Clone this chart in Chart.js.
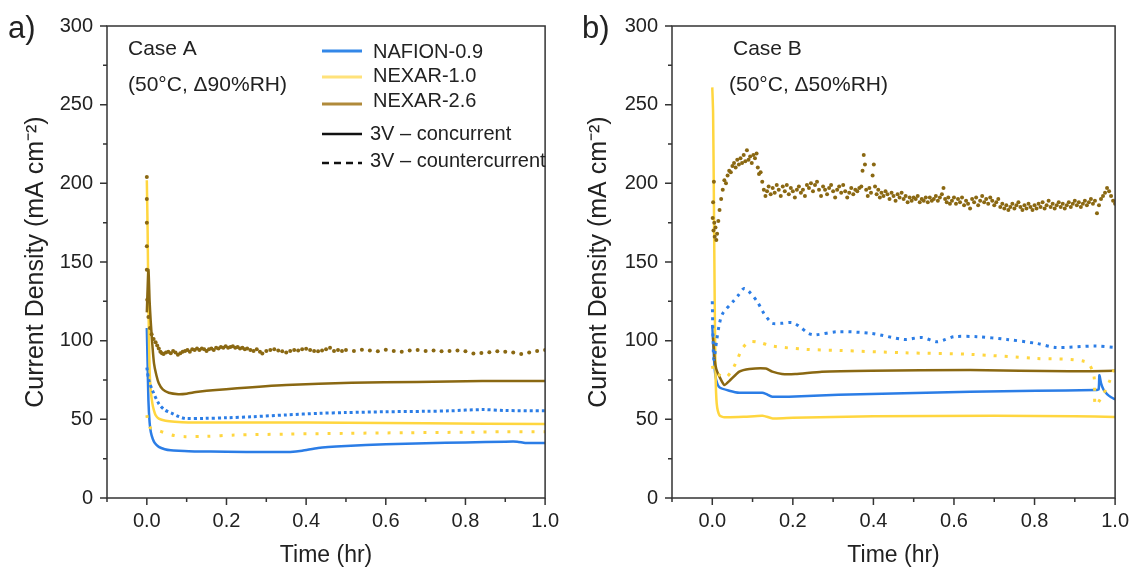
<!DOCTYPE html>
<html>
<head>
<meta charset="utf-8">
<script src="https://cdn.jsdelivr.net/npm/chart.js@4.4.1/dist/chart.umd.min.js"></script>
<style>
  html, body { margin: 0; padding: 0; background: #fff; }
  #wrap { position: relative; width: 1140px; height: 569px; }
  canvas { position: absolute; top: 0; }
</style>
</head>
<body>
<div id="wrap">
  <canvas id="chartA" width="570" height="569" style="left:0"></canvas>
  <canvas id="chartB" width="570" height="569" style="left:570px"></canvas>
</div>
<script>
// Current density vs time, two operating cases, [time (hr), mA cm-2]

// ---- Case A (50°C, Δ90%RH) ----
const aNafionCon = [[0,108],[0.002,85],[0.004,62],[0.007,48],[0.01,42],[0.015,37.5],[0.02,35],[0.03,32.5],[0.045,31],[0.06,30.3],[0.08,30],[0.12,29.6],[0.2,29.4],[0.3,29.2],[0.36,29.3],[0.39,30],[0.43,31.8],[0.5,33],[0.6,34.2],[0.7,34.8],[0.8,35.3],[0.9,35.8],[0.93,35.8],[0.95,35],[1.0,34.9]];
const aNafionCounter = [[0,83],[0.005,75],[0.014,68.5],[0.03,60],[0.045,56],[0.063,53.8],[0.08,51.8],[0.096,50.6],[0.145,50.6],[0.2,51],[0.268,51.7],[0.35,52.8],[0.432,53.8],[0.5,54.3],[0.596,54.8],[0.7,55.1],[0.76,55.4],[0.842,56.2],[0.9,55.6],[1.0,55.4]];
const aNexar10Con = [[0,202],[0.002,170],[0.004,124],[0.007,81],[0.01,68],[0.014,60],[0.018,55.5],[0.022,52.7],[0.03,50.5],[0.047,49.1],[0.07,48.4],[0.104,48],[0.3,48],[0.5,47.9],[0.7,47.5],[1.0,47]];
const aNexar10Counter = [[0,52.7],[0.006,45.3],[0.026,43.2],[0.05,41],[0.071,39.6],[0.096,39],[0.15,39.2],[0.22,40],[0.35,40.6],[0.5,41.1],[0.65,41.5],[0.8,41.8],[0.9,42.1],[1.0,42.1]];
const aNexar26Con = [[0,118],[0.004,145],[0.007,125],[0.0096,113],[0.014,97],[0.018,85.6],[0.024,78],[0.03,72.9],[0.04,69],[0.055,66.9],[0.079,66],[0.1,66.3],[0.129,67.5],[0.227,69.7],[0.35,71.8],[0.514,73.3],[0.678,73.7],[0.842,74.3],[1.0,74.3]];
const aNexar26Counter = [[0,204],[0,190],[0,175],[0,160],[0,145],[0.001,126],[0.004,115],[0.008,108],[0.012,104],[0.017,101],[0.022,99],[0.026,97],[0.03,95],[0.034,93],[0.038,92],[0.042,91.5],[0.048,92.5],[0.054,93],[0.06,92],[0.066,93.5],[0.072,92.5],[0.078,91],[0.084,92],[0.09,93],[0.096,93.5],[0.102,94],[0.108,93],[0.114,94.5],[0.12,94],[0.126,95],[0.132,94],[0.138,95],[0.144,94.5],[0.15,93.5],[0.156,94.5],[0.162,95],[0.168,94],[0.174,95.5],[0.18,95],[0.186,96],[0.192,95.5],[0.198,96.5],[0.204,95.5],[0.21,96],[0.216,96.5],[0.222,95.5],[0.228,96],[0.234,95],[0.24,95.5],[0.246,94.5],[0.252,95],[0.26,94],[0.268,93.5],[0.276,94.5],[0.284,93],[0.29,91.8],[0.3,93.5],[0.31,94],[0.32,94.5],[0.33,93.8],[0.34,93.2],[0.35,92.5],[0.36,93.5],[0.37,94],[0.38,93.8],[0.39,94.5],[0.4,94.8],[0.41,94],[0.42,93.5],[0.43,93.2],[0.44,93.8],[0.45,94.5],[0.46,95.5],[0.47,93.5],[0.48,94],[0.49,93.5],[0.5,94],[0.52,93.5],[0.54,94.2],[0.56,93.8],[0.58,93.2],[0.6,94.2],[0.62,93.5],[0.64,93],[0.66,93.8],[0.68,94],[0.7,93.5],[0.72,93.8],[0.74,93.2],[0.76,93.5],[0.78,93.8],[0.8,93.2],[0.82,91.8],[0.84,92.2],[0.86,92.6],[0.88,93.2],[0.9,93],[0.92,92.5],[0.94,91.5],[0.96,92.4],[0.98,93.5],[1.0,94]];

// ---- Case B (50°C, Δ50%RH) ----
const bNafionCon = [[0,110],[0.003,95],[0.0056,83.4],[0.0098,75],[0.018,70.3],[0.042,68.2],[0.067,66.9],[0.124,66.9],[0.133,66.2],[0.149,64.4],[0.19,64.4],[0.313,65.6],[0.476,66.5],[0.64,67.5],[0.804,68.2],[0.951,68.6],[0.959,69],[0.961,78],[0.965,73],[0.971,69],[0.98,66],[0.99,64],[1.0,62.7]];
const bNafionCounter = [[0,125],[0.002,100],[0.004,88],[0.011,100.4],[0.018,111],[0.026,117.3],[0.051,124.7],[0.065,129],[0.079,133.2],[0.092,131],[0.112,124.7],[0.128,117.3],[0.141,113],[0.149,111],[0.17,111],[0.198,111.5],[0.215,109.3],[0.239,104.6],[0.255,103.7],[0.313,105.7],[0.395,104.6],[0.476,100.8],[0.52,102],[0.557,99.3],[0.575,100.4],[0.6,102.5],[0.657,102.5],[0.731,100.8],[0.804,98.3],[0.853,95.7],[0.951,96.6],[1.0,95.7]];
const bNexar10Con = [[0,261],[0.002,245],[0.004,190],[0.006,125],[0.008,80],[0.011,60],[0.018,52.5],[0.03,51.3],[0.08,51.6],[0.125,52.3],[0.15,50.6],[0.2,51],[0.4,52],[0.7,52.2],[0.9,52],[1.0,51.5]];
const bNexar10Counter = [[0,84],[0.005,80],[0.018,78.1],[0.034,76.7],[0.046,80],[0.058,85.6],[0.075,95.1],[0.092,99.3],[0.116,98.9],[0.149,96.6],[0.231,94.5],[0.313,93.8],[0.476,92.3],[0.64,91.3],[0.804,88.7],[0.927,86.6],[0.947,78.1],[0.951,59.1],[0.967,64.4],[0.984,72.9],[1.0,83.4]];
const bNexar26Con = [[0.002,102],[0.006,88],[0.01,82],[0.018,77],[0.03,71.8],[0.042,74.3],[0.067,80.3],[0.092,82],[0.133,82.3],[0.149,80.3],[0.173,78.8],[0.206,78.8],[0.272,80.3],[0.395,80.9],[0.64,81.3],[0.886,80.5],[1.0,80.9]];
const bNexar26Counter = [[0.001,178],[0.002,188],[0.003,170],[0.004,201],[0.005,175],[0.006,166],[0.008,172],[0.01,164],[0.012,168],[0.015,176],[0.018,183],[0.022,190],[0.026,196],[0.03,202],[0.034,200],[0.038,205],[0.042,208],[0.046,207],[0.05,211],[0.054,213],[0.058,210],[0.062,215],[0.066,212],[0.07,216],[0.074,213],[0.078,218],[0.082,214],[0.086,221],[0.09,215],[0.094,217],[0.098,213],[0.102,218],[0.106,216],[0.11,219],[0.113,210],[0.116,206],[0.12,207],[0.124,201],[0.128,196],[0.132,192],[0.136,195],[0.14,198],[0.145,193],[0.15,197],[0.155,194],[0.16,199],[0.165,196],[0.17,192],[0.175,198],[0.18,195],[0.185,199],[0.19,193],[0.195,197],[0.2,195],[0.205,191],[0.21,196],[0.215,198],[0.22,194],[0.225,196],[0.23,192],[0.235,199],[0.24,197],[0.245,200],[0.25,195],[0.255,199],[0.26,201],[0.265,196],[0.27,192],[0.275,198],[0.28,196],[0.285,193],[0.29,197],[0.295,199],[0.3,195],[0.305,191],[0.31,196],[0.315,198],[0.32,194],[0.325,199],[0.33,195],[0.335,191],[0.34,194],[0.345,197],[0.35,193],[0.355,196],[0.36,195],[0.365,197],[0.37,198],[0.373,208],[0.376,218],[0.379,212],[0.382,196],[0.386,192],[0.39,197],[0.394,194],[0.398,205],[0.401,212],[0.404,198],[0.408,193],[0.412,196],[0.416,191],[0.42,194],[0.425,192],[0.43,195],[0.435,193],[0.44,190],[0.445,194],[0.45,192],[0.455,189],[0.46,193],[0.465,191],[0.47,194],[0.475,190],[0.48,192],[0.485,188],[0.49,191],[0.495,189],[0.5,191],[0.505,190],[0.51,192],[0.515,188],[0.52,190],[0.525,189],[0.53,191],[0.535,188],[0.54,191],[0.545,189],[0.55,190],[0.555,192],[0.56,189],[0.565,191],[0.57,193],[0.574,197],[0.578,190],[0.582,188],[0.586,191],[0.59,187],[0.595,189],[0.6,191],[0.605,187],[0.61,190],[0.615,188],[0.62,191],[0.625,186],[0.63,189],[0.635,187],[0.64,184],[0.645,190],[0.65,188],[0.655,191],[0.66,186],[0.665,189],[0.67,192],[0.675,188],[0.68,190],[0.685,187],[0.69,191],[0.695,189],[0.7,186],[0.705,188],[0.71,190],[0.715,185],[0.72,187],[0.725,184],[0.73,186],[0.735,183],[0.74,185],[0.745,187],[0.75,184],[0.755,186],[0.76,188],[0.765,185],[0.77,183],[0.775,186],[0.78,184],[0.785,187],[0.79,185],[0.795,183],[0.8,186],[0.805,184],[0.81,187],[0.815,185],[0.82,188],[0.825,184],[0.83,186],[0.835,189],[0.84,185],[0.845,187],[0.85,184],[0.855,186],[0.86,188],[0.865,185],[0.87,187],[0.875,184],[0.88,186],[0.885,188],[0.89,185],[0.895,187],[0.9,189],[0.905,186],[0.91,188],[0.915,185],[0.92,187],[0.925,189],[0.93,186],[0.935,188],[0.94,190],[0.945,187],[0.95,189],[0.955,181],[0.96,186],[0.965,190],[0.97,192],[0.975,194],[0.98,197],[0.985,195],[0.99,192],[0.995,189],[1.0,187]];

// legend entries
const legendNames = ['NAFION-0.9', 'NEXAR-1.0', 'NEXAR-2.6', '3V \u2013 concurrent', '3V \u2013 countercurrent'];

const BLUE = '#2b7de6';
const YELLOW = '#ffd63f';
const BROWN = '#8a6812';
const FONT = "'Liberation Sans', Arial, sans-serif";

function pts(arr) {
    return arr.map(p => ({ x: p[0], y: p[1] }));
}

function solid(data, color) {
    return { data: pts(data), borderColor: color, borderWidth: 2.5, pointRadius: 0, showLine: true, tension: 0.2 };
}

function dashed(data, color, dash) {
    return { data: pts(data), borderColor: color, borderWidth: 3, borderDash: dash, pointRadius: 0, showLine: true, tension: 0.3 };
}

function dots(data, color) {
    return { data: pts(data), borderColor: color, backgroundColor: color, pointRadius: 2, pointBorderWidth: 0, showLine: false };
}

// Box frame plus major/minor tick marks
const frameTicks = {
    id: 'frameTicks',
    afterDraw(chart) {
        const { ctx, chartArea: a, scales: { x, y } } = chart;
        ctx.save();
        ctx.strokeStyle = '#333';
        ctx.lineWidth = 1.5;
        ctx.strokeRect(a.left, a.top, a.right - a.left, a.bottom - a.top);
        ctx.beginPath();
        x.ticks.forEach(t => {
            const px = x.getPixelForValue(t.value);
            const len = t.label ? 7 : 4;
            ctx.moveTo(px, a.bottom);
            ctx.lineTo(px, a.bottom + len);
        });
        y.ticks.forEach(t => {
            const py = y.getPixelForValue(t.value);
            const len = t.label ? 7 : 4;
            ctx.moveTo(a.left, py);
            ctx.lineTo(a.left - len, py);
        });
        ctx.stroke();
        ctx.restore();
    }
};

function textPlugin(items, withLegend) {
    return {
        id: 'texts',
        afterDraw(chart) {
            const ctx = chart.ctx;
            ctx.save();
            ctx.fillStyle = '#222';
            ctx.textBaseline = 'middle';
            ctx.textAlign = 'left';
            items.forEach(it => {
                ctx.font = it.size + 'px ' + FONT;
                ctx.fillText(it.text, it.x, it.y);
            });
            if (withLegend) {
                const rows = [
                    { y: 51, color: '#3387e8', dash: [], w: 3 },
                    { y: 77, color: '#ffe27a', dash: [], w: 3 },
                    { y: 104, color: '#b08a3a', dash: [], w: 3 },
                    { y: 134, color: '#111', dash: [], w: 2.5 },
                    { y: 163, color: '#111', dash: [7, 5], w: 2.5 }
                ];
                const ty = [52.7, 76.7, 101.7, 134, 161.7];
                ctx.font = '20px ' + FONT;
                rows.forEach((r, i) => {
                    ctx.beginPath();
                    ctx.strokeStyle = r.color;
                    ctx.lineWidth = r.w;
                    ctx.setLineDash(r.dash);
                    ctx.moveTo(322, r.y);
                    ctx.lineTo(362, r.y);
                    ctx.stroke();
                    ctx.setLineDash([]);
                    ctx.fillText(legendNames[i], i < 3 ? 373 : 370, ty[i]);
                });
            }
            ctx.restore();
        }
    };
}

function makeChart(id, datasets, axisWidth, padRight, yTitlePad, texts, withLegend) {
    return new Chart(document.getElementById(id), {
        type: 'scatter',
        data: { datasets: datasets },
        options: {
            responsive: false,
            animation: false,
            layout: { padding: { left: 0, right: padRight, top: 26, bottom: 0 } },
            plugins: { legend: { display: false }, tooltip: { enabled: false } },
            scales: {
                x: {
                    type: 'linear',
                    min: -0.1,
                    max: 1.0,
                    afterFit: s => { s.height = 71; },
                    border: { display: false },
                    grid: { drawOnChartArea: false, drawTicks: false },
                    ticks: {
                        stepSize: 0.1,
                        autoSkip: false,
                        maxRotation: 0,
                        padding: 11,
                        color: '#222',
                        font: { family: FONT, size: 20 },
                        callback: v => {
                            const k = Math.round(v * 10);
                            return (k >= 0 && k % 2 === 0) ? (k / 10).toFixed(1) : '';
                        }
                    },
                    title: { display: true, text: 'Time (hr)', color: '#222', font: { family: FONT, size: 23 }, padding: { top: 0, bottom: 0 } }
                },
                y: {
                    min: 0,
                    max: 300,
                    afterFit: s => { s.width = axisWidth; },
                    border: { display: false },
                    grid: { drawOnChartArea: false, drawTicks: false },
                    ticks: {
                        stepSize: 25,
                        autoSkip: false,
                        padding: 14,
                        color: '#222',
                        font: { family: FONT, size: 20 },
                        callback: v => (v % 50 === 0 ? String(v) : '')
                    },
                    title: { display: true, text: 'Current Density (mA cm\u207B\u00B2)', color: '#222', font: { family: FONT, size: 25 }, padding: { top: yTitlePad, bottom: 0 } }
                }
            }
        },
        plugins: [frameTicks, textPlugin(texts, withLegend)]
    });
}

const datasetsA = [
    dots(aNexar26Counter, BROWN),
    solid(aNexar26Con, BROWN),
    dashed(aNafionCounter, BLUE, [3, 3]),
    dashed(aNexar10Counter, YELLOW, [3, 9]),
    solid(aNexar10Con, YELLOW),
    solid(aNafionCon, BLUE)
];

const datasetsB = [
    dots(bNexar26Counter, BROWN),
    dashed(bNafionCounter, BLUE, [3, 5]),
    dashed(bNexar10Counter, YELLOW, [3, 8]),
    solid(bNexar26Con, BROWN),
    solid(bNexar10Con, YELLOW),
    solid(bNafionCon, BLUE)
];

makeChart('chartA', datasetsA, 107, 16, 21, [
    { text: 'a)', x: 8, y: 29, size: 31 },
    { text: 'Case A', x: 128, y: 49, size: 21 },
    { text: '(50\u00B0C, \u039490%RH)', x: 128, y: 85, size: 21 }
], true);

makeChart('chartB', datasetsB, 102, 20, 14, [
    { text: 'b)', x: 12, y: 29, size: 31 },
    { text: 'Case B', x: 163, y: 49, size: 21 },
    { text: '(50\u00B0C, \u039450%RH)', x: 159, y: 85, size: 21 }
], false);
</script>
</body>
</html>
